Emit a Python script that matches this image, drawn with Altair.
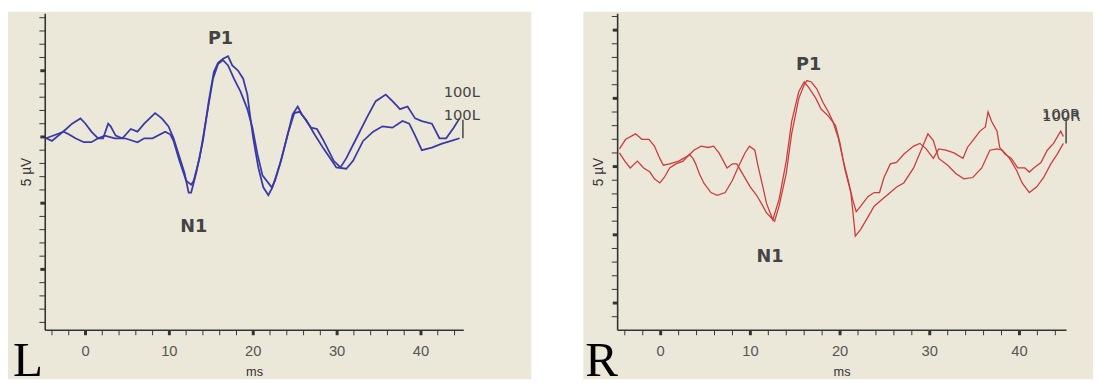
import altair as alt
import pandas as pd

# ---------------- data (ms, µV) ----------------
L1_ms = [-4.7, -4.0, -2.3, -1.6, -0.6, 0.0, 0.7, 1.5, 2.1, 2.7, 3.0, 3.6, 4.4, 5.4, 6.2, 7.0, 8.3, 9.1, 9.9,
         10.5, 11.1, 11.8, 12.3, 12.6, 13.2, 14.0, 14.7, 15.3, 15.8, 16.4, 17.0, 17.5, 18.2, 18.8, 19.3, 19.6,
         20.0, 20.6, 21.2, 21.8, 22.3, 23.2, 24.0, 24.7, 25.3, 25.8, 26.9, 27.6, 28.4, 29.6, 30.4, 31.1, 32.3,
         33.5, 34.6, 35.8, 36.6, 37.5, 38.4, 39.3, 40.1, 41.3, 42.2, 43.0, 43.9, 44.6]
L1_uv = [-0.1, -0.3, 0.6, 1.0, 1.4, 1.0, 0.4, -0.1, -0.1, 1.0, 0.8, 0.1, -0.1, 0.6, 0.4, 1.0, 1.8, 1.4, 0.8,
         -0.1, -1.3, -2.7, -4.2, -4.2, -2.7, -0.3, 2.7, 4.9, 5.6, 5.9, 6.1, 5.4, 5.0, 4.4, 3.2, 1.7,
         -0.1, -2.3, -3.8, -4.4, -3.8, -2.0, -0.1, 1.7, 2.3, 1.7, 0.7, 0.6, -0.3, -1.8, -2.3, -1.6, -0.1,
         1.4, 2.7, 3.2, 2.7, 2.1, 2.3, 1.4, 1.2, 1.0, -0.1, -0.1, 0.7, 1.4]

L2_ms = [-4.7, -2.6, -2.0, -1.2, -0.2, 0.7, 1.5, 2.3, 3.5, 4.7, 6.2, 7.0, 8.0, 9.5, 10.1, 10.5, 11.2, 12.0,
         12.6, 12.9, 13.6, 14.4, 15.2, 15.8, 16.4, 17.0, 17.7, 18.5, 19.3, 19.9, 20.5, 21.1, 22.2, 22.6,
         23.4, 24.1, 24.9, 25.5, 26.3, 27.3, 28.4, 29.6, 29.9, 31.1, 31.9, 33.1, 34.3, 35.4, 36.6, 37.8,
         38.6, 39.3, 40.1, 41.3, 42.5, 43.6, 44.6]
L2_uv = [-0.1, 0.4, 0.2, -0.1, -0.4, -0.4, -0.1, 0.1, -0.1, -0.1, -0.4, -0.1, -0.1, 0.4, 0.2, -0.3, -1.8, -3.3,
         -3.6, -3.3, -1.6, 1.4, 4.4, 5.5, 5.8, 5.4, 4.4, 3.4, 2.1, 0.7, -1.3, -2.9, -3.8, -3.3,
         -1.6, 0.2, 1.8, 1.9, 1.3, 0.2, -0.9, -2.0, -2.3, -2.4, -1.8, -0.3, 0.4, 0.8, 0.7, 1.2,
         1.0, 0.1, -1.0, -0.8, -0.5, -0.3, -0.1]

R1_ms = [-4.6, -3.9, -2.8, -2.1, -1.3, -0.7, -0.1, 0.3, 1.0, 2.0, 3.1, 3.7, 4.5, 5.3, 5.9, 6.5, 7.0, 7.4,
         8.0, 8.5, 9.1, 10.0, 10.7, 11.4, 11.8, 12.7, 13.2, 14.0, 14.6, 15.4, 16.0, 16.3, 16.8, 17.4, 18.1,
         18.7, 19.2, 19.8, 20.3, 20.9, 21.4, 21.8, 22.3, 23.1, 23.8, 24.4, 24.9, 25.6, 26.3, 27.1, 28.2,
         28.9, 29.6, 30.4, 31.0, 31.8, 32.7, 33.7, 34.2, 34.9, 35.6, 36.2, 36.5, 36.9, 37.5, 37.8, 38.4,
         39.1, 39.8, 40.6, 41.1, 41.6, 42.4, 43.1, 43.8, 44.6, 44.9]
R1_uv = [1.3, 2.0, 2.4, 2.0, 2.0, 1.5, 0.6, 0.1, 0.2, 0.4, 0.8, 1.2, 1.5, 1.4, 1.5, 1.0, 0.4, -0.1,
         0.2, 0.2, -0.5, -1.5, -2.1, -2.9, -3.4, -4.0, -2.9, -0.5, 2.4, 5.0, 6.0, 6.3, 6.2, 5.7, 4.7,
         4.0, 3.3, 2.1, 0.6, -1.0, -2.4, -3.3, -2.9, -2.2, -1.9, -1.9, -0.8, 0.2, 0.3, 0.9, 1.5,
         1.7, 1.3, 0.6, 1.3, 1.2, 1.0, 0.6, 1.4, 2.0, 2.6, 2.9, 4.0, 3.3, 2.6, 1.4, 0.9,
         0.6, -0.1, -0.1, -0.4, -0.1, 0.3, 1.2, 1.7, 2.6, 2.2]

R2_ms = [-4.6, -4.0, -3.4, -2.6, -1.9, -1.2, -0.7, -0.1, 0.4, 1.0, 1.7, 2.5, 3.2, 3.6, 3.9, 4.3, 4.8, 5.6,
         6.3, 7.2, 8.0, 8.6, 9.4, 9.9, 10.5, 10.8, 11.4, 11.8, 12.5, 13.2, 14.0, 14.6, 15.4, 16.0, 16.5,
         17.3, 17.9, 18.7, 19.5, 20.0, 20.5, 21.2, 21.6, 21.7, 22.3, 23.1, 23.8, 24.7, 25.6, 26.3, 27.1,
         28.2, 29.1, 29.8, 30.4, 31.0, 32.0, 32.9, 33.8, 34.8, 35.8, 36.7, 37.5, 38.1, 38.9, 39.7, 40.3,
         41.1, 41.9, 42.7, 43.5, 44.2, 44.9]
R2_uv = [1.0, 0.4, -0.1, 0.4, -0.1, -0.4, -0.9, -1.2, -0.8, -0.1, 0.2, 0.4, 0.9, 0.6, 0.2, -0.5, -1.2, -1.9,
         -2.1, -1.9, -1.0, -0.1, 1.0, 1.5, 1.2, 0.2, -1.5, -2.7, -3.9, -2.4, 0.4, 3.3, 5.5, 6.2, 5.8,
         5.0, 4.2, 3.7, 3.0, 1.7, -0.1, -1.9, -4.4, -5.1, -4.6, -3.7, -2.9, -2.4, -1.9, -1.5, -1.2,
         -0.1, 1.3, 2.4, 1.9, 0.6, 0.1, -0.5, -0.9, -0.8, -0.1, 1.2, 1.3, 1.2, 0.6, -0.3, -1.2,
         -1.9, -1.5, -0.8, 0.2, 0.9, 1.7]

# peak annotations (label, ms, µV)
L_peak_labels = ["P1", "N1"]
L_peak_ms = [16.1, 12.9]
L_peak_uv = [7.0, -7.2]
R_peak_labels = ["P1", "N1"]
R_peak_ms = [16.5, 12.2]
R_peak_uv = [7.1, -7.0]

# trace name labels at the end of the sweeps
L_trace_labels = ["100L", "100L"]
L_trace_ms = [42.7, 42.7]
L_trace_uv = [3.0, 1.3]
R_trace_labels = ["100R", "100R"]
R_trace_ms = [42.5, 42.55]
R_trace_uv = [3.5, 3.35]
L_marker = (45.0, 1.3, -0.1)
R_marker = (45.2, 3.5, 1.7)

# axis ticks and labels
x_tick_values = list(range(-4, 45, 2))
x_label_values = [0, 10, 20, 30, 40]
L_y_ticks = list(range(-14, 10))
R_y_ticks = list(range(-11, 12))
x_title = "ms"
y_title = "5 µV"

# axis extents (ms, µV) of each panel
L_xaxis = [-4.8, 45.1]
L_yaxis = [-14.6, 9.3]
R_xaxis = [-4.8, 45.25]
R_yaxis = [-12.0, 11.2]

BG = "#ebe8da"
INK = "#333333"

# panel geometry in pixels: whole beige panel, and where the axes sit in it
PANEL_H = 375
AX_TOP = 2
AX_BOTTOM = 325


def panel(traces, xaxis_rng, yaxis_rng, yticks, color, stroke_w,
          panel_w, ax_left, ax_right, peaks, tags, marker, letter):
    # extend the scale domain so the axes sit inside the beige panel
    ppx = (ax_right - ax_left) / (xaxis_rng[1] - xaxis_rng[0])
    ppy = (AX_BOTTOM - AX_TOP) / (yaxis_rng[1] - yaxis_rng[0])
    xdom = [xaxis_rng[0] - ax_left / ppx, xaxis_rng[1] + (panel_w - ax_right) / ppx]
    ydom = [yaxis_rng[0] - (PANEL_H - AX_BOTTOM) / ppy, yaxis_rng[1] + AX_TOP / ppy]

    frames = []
    for name, ms, uv in traces:
        frames.append(pd.DataFrame({"ms": ms, "uv": uv, "trace": name}))
    df = pd.concat(frames, ignore_index=True)

    xs = alt.Scale(domain=xdom, nice=False, zero=False)
    ys = alt.Scale(domain=ydom, nice=False, zero=False)
    X = lambda f: alt.X(f, scale=xs, axis=None)
    Y = lambda f: alt.Y(f, scale=ys, axis=None)

    x0, x1 = xaxis_rng
    y0, y1 = yaxis_rng

    # axis lines
    ax = pd.DataFrame({"xa": [x0, x0], "xb": [x1, x0], "ya": [y0, y0], "yb": [y0, y1]})
    axis_lines = alt.Chart(ax).mark_rule(color=INK, strokeWidth=1.6).encode(
        x=X("xa:Q"), x2="xb:Q", y=Y("ya:Q"), y2="yb:Q"
    )

    # x ticks (below the axis line), thicker every 10 ms
    xt = pd.DataFrame({"v": x_tick_values, "yb": y0})
    xt_base = alt.Chart(xt)
    xt_minor = xt_base.transform_filter("datum.v % 10 !== 0").mark_rule(
        color=INK, strokeWidth=1, y2Offset=5).encode(x=X("v:Q"), y=Y("yb:Q"), y2="yb:Q")
    xt_major = xt_base.transform_filter("datum.v % 10 === 0").mark_rule(
        color=INK, strokeWidth=3, y2Offset=5).encode(x=X("v:Q"), y=Y("yb:Q"), y2="yb:Q")

    # y ticks (left of the axis line), thicker every 5 units
    yt = pd.DataFrame({"v": yticks, "xl": x0})
    yt_base = alt.Chart(yt)
    yt_minor = yt_base.transform_filter("datum.v % 5 !== 0").mark_rule(
        color=INK, strokeWidth=1, x2Offset=-6).encode(y=Y("v:Q"), x=X("xl:Q"), x2="xl:Q")
    yt_major = yt_base.transform_filter("datum.v % 5 === 0").mark_rule(
        color=INK, strokeWidth=3, x2Offset=-5).encode(y=Y("v:Q"), x=X("xl:Q"), x2="xl:Q")

    # x labels and titles
    xl = pd.DataFrame({"v": x_label_values, "yb": y0})
    x_labels = alt.Chart(xl).mark_text(
        font="Liberation Sans", fontSize=15, color="#555555",
        align="center", baseline="alphabetic", dy=26,
    ).encode(x=X("v:Q"), y=Y("yb:Q"), text="v:Q")

    xtt = pd.DataFrame({"t": [x_title], "xm": [(x0 + x1) / 2], "yb": [y0]})
    x_title_mark = alt.Chart(xtt).mark_text(
        font="Liberation Sans", fontSize=13, color=INK,
        align="center", baseline="alphabetic", dy=47,
    ).encode(x=X("xm:Q"), y=Y("yb:Q"), text="t:N")

    ytt = pd.DataFrame({"t": [y_title], "xl": [x0], "ym": [(y0 + y1) / 2]})
    y_title_mark = alt.Chart(ytt).mark_text(
        font="Liberation Sans", fontSize=14, color=INK, angle=270,
        align="center", baseline="alphabetic", dy=-15,
    ).encode(x=X("xl:Q"), y=Y("ym:Q"), text="t:N")

    lines = alt.Chart(df).mark_line(color=color, strokeWidth=stroke_w).encode(
        x=X("ms:Q"), y=Y("uv:Q"), detail="trace:N",
    )

    pk = pd.DataFrame({"label": peaks[0], "ms": peaks[1], "uv": peaks[2]})
    peak_text = alt.Chart(pk).mark_text(
        font="DejaVu Sans", fontSize=18, fontWeight="bold", color="#444444",
        align="center", baseline="alphabetic",
    ).encode(x=X("ms:Q"), y=Y("uv:Q"), text="label:N")

    tg = pd.DataFrame({"label": tags[0], "ms": tags[1], "uv": tags[2]})
    tag_text = alt.Chart(tg).mark_text(
        font="DejaVu Sans", fontSize=15, color="#444444",
        align="left", baseline="alphabetic",
    ).encode(x=X("ms:Q"), y=Y("uv:Q"), text="label:N")

    mk = pd.DataFrame({"ms": [marker[0]], "top": [marker[1]], "bot": [marker[2]]})
    mark_rule = alt.Chart(mk).mark_rule(color="#444444", strokeWidth=1.5).encode(
        x=X("ms:Q"), y=Y("top:Q"), y2="bot:Q"
    )

    lt = pd.DataFrame({"label": [letter], "ms": [x0], "uv": [y0]})
    letter_text = alt.Chart(lt).mark_text(
        font="Liberation Serif", fontSize=50, color="#000000",
        align="left", baseline="alphabetic", dx=-33, dy=47,
    ).encode(x=X("ms:Q"), y=Y("uv:Q"), text="label:N")

    return alt.layer(
        axis_lines, xt_minor, xt_major, yt_minor, yt_major, x_labels, x_title_mark,
        y_title_mark, lines, peak_text, tag_text, mark_rule, letter_text,
    ).properties(
        width=panel_w, height=PANEL_H,
        view=alt.ViewBackground(fill=BG, strokeWidth=0),
    )


left = panel(
    [("a", L1_ms, L1_uv), ("b", L2_ms, L2_uv)],
    L_xaxis, L_yaxis, L_y_ticks, "#3a3aa6", 1.8, 534, 38, 465,
    (L_peak_labels, L_peak_ms, L_peak_uv),
    (L_trace_labels, L_trace_ms, L_trace_uv), L_marker, "L",
)
right = panel(
    [("a", R1_ms, R1_uv), ("b", R2_ms, R2_uv)],
    R_xaxis, R_yaxis, R_y_ticks, "#cc3b3b", 1.3, 520, 35, 493,
    (R_peak_labels, R_peak_ms, R_peak_uv),
    (R_trace_labels, R_trace_ms, R_trace_uv), R_marker, "R",
)

chart = alt.HConcatChart(hconcat=[left, right], spacing=53, bounds="flush").properties(
    background="white",
    padding={"left": 0, "top": 0, "right": 0, "bottom": 0},
).configure_view(
    strokeWidth=0
)

chart.save("out.html", embed_options={"renderer": "svg", "actions": False})
